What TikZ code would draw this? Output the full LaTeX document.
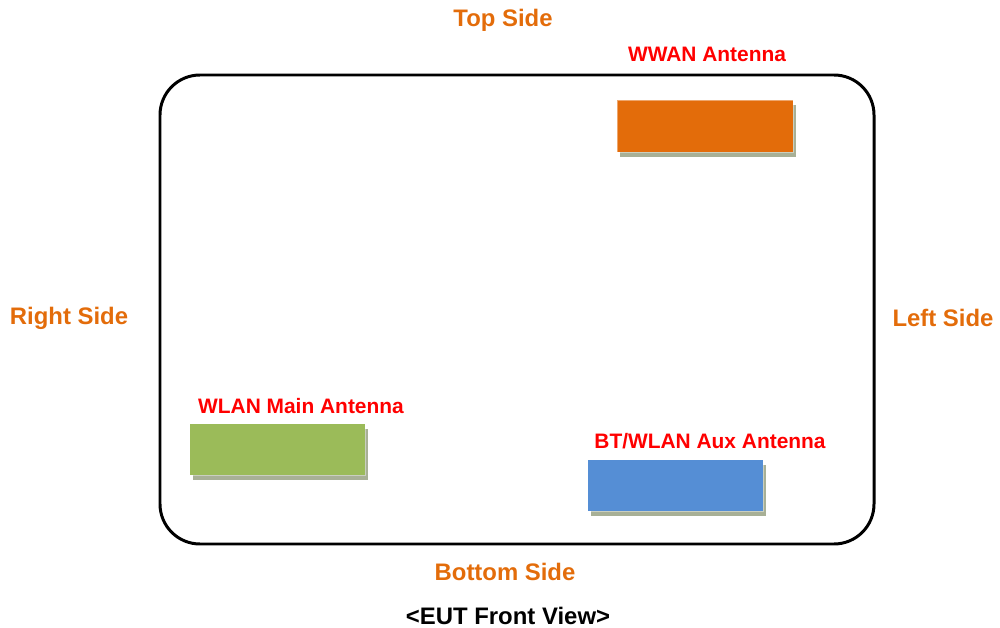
\documentclass[tikz,border=0pt]{standalone}
\usepackage{fontspec}
\setmainfont{Liberation Sans}
\usetikzlibrary{shadows}
\definecolor{sidecol}{HTML}{E36C0A}
\definecolor{antcol}{HTML}{FF0000}
\definecolor{wwancol}{HTML}{E36C0A}
\definecolor{wlancol}{HTML}{9BBB59}
\definecolor{btcol}{HTML}{558ED5}
\definecolor{shadowcol}{HTML}{A8B096}
\tikzset{
  sidelabel/.style={text=sidecol, font=\fontsize{13.6}{16}\selectfont\bfseries, inner sep=0pt},
  antlabel/.style={text=antcol, font=\fontsize{11.9}{14}\selectfont\bfseries, inner sep=0pt},
  antbox/.style={rectangle, draw=white, draw opacity=0.4, minimum width=3.52cm, minimum height=1.04cm,
    drop shadow={shadow xshift=0.06cm, shadow yshift=-0.1cm, fill=shadowcol, opacity=1}},
}
\begin{document}
\begin{tikzpicture}[x=0.02cm, y=-0.02cm]
      \useasboundingbox (0,0) rectangle (1000,628);

      % device outline
      \draw[line width=1.7pt, rounded corners=0.8cm] (160,75) rectangle (874,544);

      \begin{scope}[every node/.style={sidelabel}]
        \node (top)    at (503,20)  {Top Side};
        \node (bottom) at (505,572) {Bottom Side};
        \node (right)  at (69,318)  {Right Side};
        \node (left)   at (943,318) {Left Side};
      \end{scope}

      \begin{scope}[every node/.style={antbox}]
        \node[fill=wwancol] (wwan) at (705,126)   {};
        \node[fill=wlancol] (wlan) at (277.5,449.5) {};
        \node[fill=btcol]   (bt)   at (675.5,485.5) {};
      \end{scope}

      \begin{scope}[every node/.style={antlabel}]
        \node (wwanlbl) at (707,54)  {WWAN Antenna};
        \node (wlanlbl) at (301,406) {WLAN Main Antenna};
        \node (btlbl)   at (710,441) {BT/WLAN Aux Antenna};
      \end{scope}

      \node[font=\fontsize{13.6}{16}\selectfont\bfseries, inner sep=0pt] (view) at (508,616) {<EUT Front View>};

    \end{tikzpicture}
\end{document}
